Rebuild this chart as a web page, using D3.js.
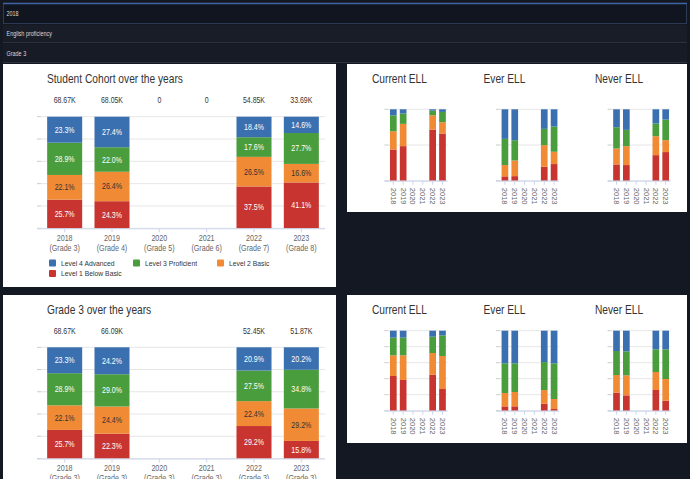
<!DOCTYPE html>
<html><head><meta charset="utf-8">
<script src="https://cdn.jsdelivr.net/npm/d3@7"></script>
<style>
html,body{margin:0;padding:0;background:#141823;overflow:hidden;}
svg{display:block;font-family:"Liberation Sans",Arial,sans-serif;}
</style></head><body>
<svg id="c" width="690" height="479"></svg>
<script>
// ---------------- data ----------------
const filters = ["2018", "English proficiency", "Grade 3"];
const years = ["2018", "2019", "2020", "2021", "2022", "2023"];
const levels = ["Level 4 Advanced", "Level 3 Proficient", "Level 2 Basic", "Level 1 Below Basic"];
const levelKeys = ["adv", "prof", "basic", "below"];
const levelColors = ["#3a70b0", "#4a9d3c", "#f18a35", "#c8342f"];

const cohortTitle = "Student Cohort over the years";
const cohortGrades = ["(Grade 3)", "(Grade 4)", "(Grade 5)", "(Grade 6)", "(Grade 7)", "(Grade 8)"];
const cohortTotals = ["68.67K", "68.05K", "0", "0", "54.85K", "33.69K"];
const cohortAdvanced   = [23.3, 27.4, 0, 0, 18.4, 14.6];
const cohortProficient = [28.9, 22.0, 0, 0, 17.6, 27.7];
const cohortBasic      = [22.1, 26.4, 0, 0, 26.5, 16.6];
const cohortBelow      = [25.7, 24.3, 0, 0, 37.5, 41.1];

const grade3Title = "Grade 3 over the years";
const grade3Grades = ["(Grade 3)", "(Grade 3)", "(Grade 3)", "(Grade 3)", "(Grade 3)", "(Grade 3)"];
const grade3Totals = ["68.67K", "66.09K", "", "", "52.45K", "51.87K"];
const grade3Advanced   = [23.3, 24.2, 0, 0, 20.9, 20.2];
const grade3Proficient = [28.9, 29.0, 0, 0, 27.5, 34.8];
const grade3Basic      = [22.1, 24.4, 0, 0, 22.4, 29.2];
const grade3Below      = [25.7, 22.3, 0, 0, 29.2, 15.8];

const ellGroups = ["Current ELL", "Ever ELL", "Never ELL"];
// per year: [advanced, proficient, basic, below basic] (%)
const cohortCurrentELL = [[8.4,22.3,25.6,43.7],[6.0,14.4,31.2,48.4],[0,0,0,0],[0,0,0,0],[1.9,6.5,20.0,71.6],[3.7,14.4,15.8,66.1]];
const cohortEverELL    = [[41.4,36.7,15.8,6.1],[43.3,28.4,21.9,6.4],[0,0,0,0],[0,0,0,0],[27.4,22.8,30.2,19.6],[24.2,35.3,17.2,23.3]];
const cohortNeverELL   = [[25.1,29.8,22.3,22.8],[28.8,22.8,26.5,21.9],[0,0,0,0],[0,0,0,0],[20.0,17.7,26.5,35.8],[14.4,28.8,16.7,40.1]];
const grade3CurrentELL = [[8.7,22.1,25.8,43.4],[8.7,22.1,30.8,38.4],[0,0,0,0],[0,0,0,0],[7.5,20.4,27.1,45.0],[5.8,25.8,41.3,27.1]];
const grade3EverELL    = [[40.8,37.1,16.7,5.4],[40.8,35.8,17.9,5.5],[0,0,0,0],[0,0,0,0],[39.2,35.0,17.1,8.7],[40.8,44.6,12.5,2.1]];
const grade3NeverELL   = [[25.4,30.0,22.1,22.5],[25.8,30.0,25.0,19.2],[0,0,0,0],[0,0,0,0],[23.3,28.3,22.5,25.9],[23.3,37.1,27.1,12.5]];

// ---------------- drawing ----------------
const svg = d3.select("#c");
const SQ = 0.85;

// header filter rows
const hdr = svg.append("g");
hdr.append("rect").attr("x", 0).attr("y", 0).attr("width", 690).attr("height", 64).attr("fill", "#141823");
hdr.append("rect").attr("x", 3.5).attr("y", 3.5).attr("width", 683).attr("height", 20).attr("fill", "#11151f").attr("stroke", "#2b3a55");
hdr.append("line").attr("x1", 3).attr("x2", 687).attr("y1", 3.5).attr("y2", 3.5).attr("stroke", "#3d66a3").attr("stroke-width", 1.5);
hdr.append("rect").attr("x", 3).attr("y", 25).attr("width", 684).attr("height", 17).attr("fill", "#191d28");
hdr.append("line").attr("x1", 3).attr("x2", 687).attr("y1", 42.5).attr("y2", 42.5).attr("stroke", "#2c313d");
hdr.append("rect").attr("x", 3).attr("y", 44).attr("width", 684).attr("height", 18).attr("fill", "#171b26");
hdr.append("line").attr("x1", 3).attr("x2", 687).attr("y1", 62.5).attr("y2", 62.5).attr("stroke", "#2c313d");
const hdrY = [16.5, 36.5, 56];
filters.forEach((f, i) => {
  hdr.append("text").attr("class", "sq").attr("data-k", 0.7)
    .attr("x", 6.5).attr("y", hdrY[i]).attr("font-size", 7.8).attr("fill", "#d6d8de").text(f);
});

// panels
const panels = [[3, 64, 333, 223], [347, 64, 340, 148], [3, 295, 333, 200], [347, 295, 340, 148]];
panels.forEach(p => svg.append("rect").attr("x", p[0]).attr("y", p[1]).attr("width", p[2]).attr("height", p[3]).attr("fill", "#ffffff"));

function rowsFrom(adv, prof, basic, below) {
  return years.map((yr, i) => ({ year: yr, adv: adv[i], prof: prof[i], basic: basic[i], below: below[i] }));
}
function rowsFromMatrix(m) {
  return years.map((yr, i) => ({ year: yr, adv: m[i][0], prof: m[i][1], basic: m[i][2], below: m[i][3] }));
}
const stack = d3.stack().keys(["below", "basic", "prof", "adv"]).offset(d3.stackOffsetExpand);
const colorOf = d3.scaleOrdinal().domain(levelKeys).range(levelColors);

function drawMain(o) {
  const g = svg.append("g");
  const x = d3.scaleBand().domain(years).range([41, 325]).paddingInner(0.26).paddingOuter(0.13);
  const y = d3.scaleLinear().domain([0, 1]).range([o.bottom, o.top]);
  // grid & y ticks
  y.ticks(5).forEach(t => {
    g.append("line").attr("x1", 41).attr("x2", 325).attr("y1", y(t)).attr("y2", y(t)).attr("stroke", "#e6e6e6");
    g.append("line").attr("x1", 37).attr("x2", 41).attr("y1", y(t)).attr("y2", y(t)).attr("stroke", "#cccccc");
  });
  // title
  g.append("text").attr("class", "sq").attr("x", 47).attr("y", o.titleY).attr("font-size", 12).attr("fill", "#333").text(o.title);
  // bars
  const series = stack(o.rows);
  series.forEach(s => {
    s.forEach(d => {
      const v = d.data[s.key];
      if (!v) return;
      g.append("rect").attr("x", x(d.data.year)).attr("width", x.bandwidth())
        .attr("y", y(d[1])).attr("height", y(d[0]) - y(d[1])).attr("fill", colorOf(s.key));
      g.append("text").attr("class", "sq")
        .attr("x", x(d.data.year) + x.bandwidth() / 2).attr("y", (y(d[0]) + y(d[1])) / 2 + 3)
        .attr("text-anchor", "middle").attr("font-size", 8.3)
        .attr("fill", s.key === "basic" ? "#333" : "#fff")
        .text(v.toFixed(1) + "%");
    });
  });
  // totals
  years.forEach((yr, i) => {
    g.append("text").attr("class", "sq").attr("x", x(yr) + x.bandwidth() / 2).attr("y", o.totalsY)
      .attr("text-anchor", "middle").attr("font-size", 8.2).attr("fill", "#333").text(o.totals[i]);
  });
  // x axis
  g.append("line").attr("x1", 37).attr("x2", 325).attr("y1", o.bottom + 0.5).attr("y2", o.bottom + 0.5).attr("stroke", "#ccd6eb");
  years.forEach((yr, i) => {
    const cx = x(yr) + x.bandwidth() / 2;
    g.append("line").attr("x1", cx).attr("x2", cx).attr("y1", o.bottom).attr("y2", o.bottom + 4).attr("stroke", "#ccd6eb");
    g.append("text").attr("class", "sq").attr("x", cx).attr("y", o.bottom + 13).attr("text-anchor", "middle")
      .attr("font-size", 8.4).attr("fill", "#666").text(yr);
    g.append("text").attr("class", "sq").attr("x", cx).attr("y", o.bottom + 23).attr("text-anchor", "middle")
      .attr("font-size", 8.4).attr("fill", "#666").text(o.grades[i]);
  });
  if (o.legend) {
    const pos = [[49, 259.5], [133, 259.5], [217, 259.5], [49, 270]];
    levels.forEach((l, i) => {
      g.append("rect").attr("x", pos[i][0]).attr("y", pos[i][1]).attr("width", 7).attr("height", 7)
        .attr("rx", 1).attr("fill", levelColors[i]);
      g.append("text").attr("class", "sq").attr("x", pos[i][0] + 12).attr("y", pos[i][1] + 6.3)
        .attr("font-size", 8).attr("fill", "#333").text(l);
    });
  }
}

function drawSmall(o) {
  const g = svg.append("g");
  const x = d3.scaleBand().domain(years).range([o.left, o.left + 59]).paddingInner(0.32).paddingOuter(0.16);
  const y = d3.scaleLinear().domain([0, 1]).range([o.bottom, o.top]);
  y.ticks(o.ticks).forEach(t => {
    g.append("line").attr("x1", o.left).attr("x2", o.left + 59).attr("y1", y(t)).attr("y2", y(t)).attr("stroke", "#e6e6e6");
    g.append("line").attr("x1", o.left - 4).attr("x2", o.left).attr("y1", y(t)).attr("y2", y(t)).attr("stroke", "#cccccc");
  });
  g.append("text").attr("class", "sq").attr("x", o.titleX).attr("y", o.titleY).attr("font-size", 12).attr("fill", "#333").text(o.title);
  stack(o.rows).forEach(s => {
    s.forEach(d => {
      if (!d.data[s.key]) return;
      g.append("rect").attr("x", x(d.data.year)).attr("width", x.bandwidth())
        .attr("y", y(d[1])).attr("height", y(d[0]) - y(d[1])).attr("fill", colorOf(s.key));
    });
  });
  g.append("line").attr("x1", o.left - 4).attr("x2", o.left + 59).attr("y1", o.bottom + 0.5).attr("y2", o.bottom + 0.5).attr("stroke", "#ccd6eb");
  years.forEach(yr => {
    const cx = x(yr) + x.bandwidth() / 2;
    g.append("line").attr("x1", cx).attr("x2", cx).attr("y1", o.bottom).attr("y2", o.bottom + 4).attr("stroke", "#ccd6eb");
    g.append("text").attr("transform", `translate(${cx},${o.bottom + 7}) rotate(90)`)
      .attr("dy", "0.33em").attr("font-size", 7.6).attr("fill", "#666").text(yr);
  });
}

drawMain({ title: cohortTitle, titleY: 83.5, totalsY: 103.5, top: 116.7, bottom: 228.3,
  rows: rowsFrom(cohortAdvanced, cohortProficient, cohortBasic, cohortBelow),
  totals: cohortTotals, grades: cohortGrades, legend: true });
drawMain({ title: grade3Title, titleY: 314, totalsY: 334, top: 347.3, bottom: 458.5,
  rows: rowsFrom(grade3Advanced, grade3Proficient, grade3Basic, grade3Below),
  totals: grade3Totals, grades: grade3Grades, legend: false });

const smallLefts = [388.4, 500, 611.6];
const titleXs = [372, 483.5, 595];
[cohortCurrentELL, cohortEverELL, cohortNeverELL].forEach((m, i) => drawSmall({
  left: smallLefts[i], top: 109.3, bottom: 180.7, ticks: 2, title: ellGroups[i], titleX: titleXs[i], titleY: 83.5,
  rows: rowsFromMatrix(m) }));
[grade3CurrentELL, grade3EverELL, grade3NeverELL].forEach((m, i) => drawSmall({
  left: smallLefts[i], top: 330.7, bottom: 410.7, ticks: 5, title: ellGroups[i], titleX: titleXs[i], titleY: 314,
  rows: rowsFromMatrix(m) }));

// horizontal squeeze of text to match the reference's narrow rendering
svg.selectAll("text.sq").each(function () {
  const t = d3.select(this);
  const k = +(t.attr("data-k") || SQ);
  const xx = +t.attr("x");
  t.attr("transform", `translate(${xx},0) scale(${k},1) translate(${-xx},0)`);
});
</script>
</body></html>
